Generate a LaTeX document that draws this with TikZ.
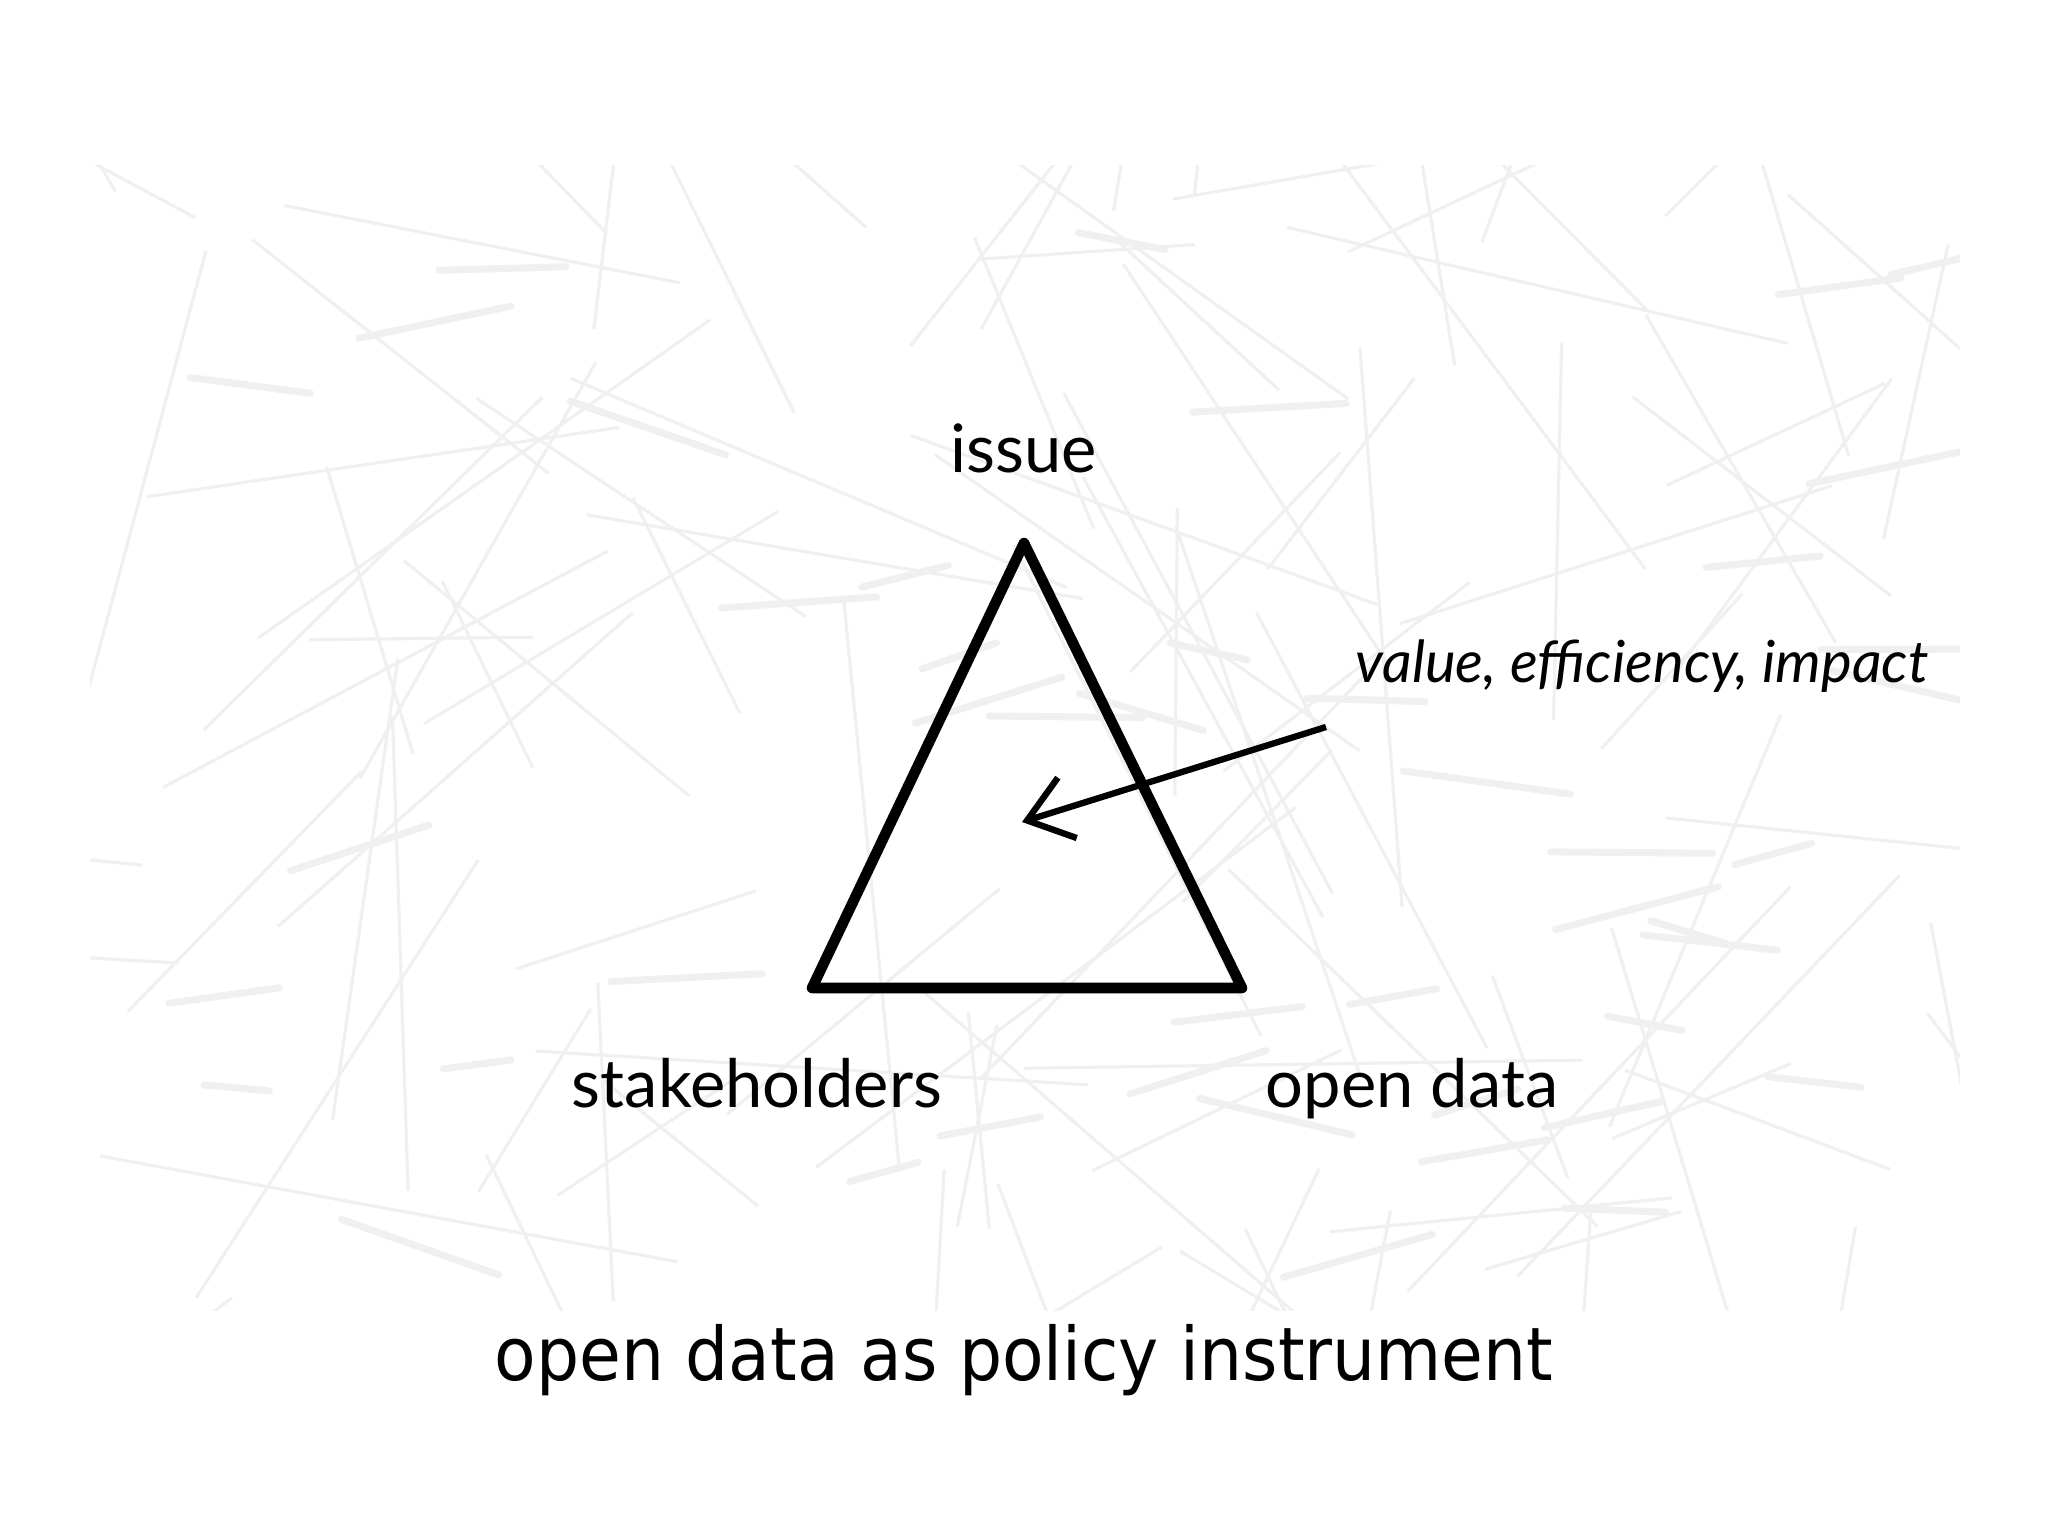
\documentclass[tikz,border=0pt]{standalone}
\usepackage{fontspec}
\setmainfont{Lato}
\newfontfamily\titlefont[FakeStretch=0.92]{DejaVu Sans}
\usetikzlibrary{arrows.meta,positioning}

\definecolor{scribble}{HTML}{F0F0F0}
\tikzset{
  corner/.style={font=\fontsize{19}{23}\selectfont,anchor=base},
  note/.style={font=\fontsize{16.5}{19}\selectfont\itshape,anchor=base},
  sketch/.style={line width=3pt,line join=round,line cap=round},
  pointer/.style={line width=1.8pt,-{Straight Barb[length=12pt,width=18pt]}}
}

\begin{document}
\begin{tikzpicture}[x=0.01cm,y=-0.01cm]
  \useasboundingbox (0,0) rectangle (2048,1536);
  \fill[white] (0,0) rectangle (2048,1536);
  % faint network in the background
  \begin{scope}
    \clip (90,165) rectangle (1960,1310);
    \pgfmathsetseed{17}
    \foreach \i in {1,...,110} {
      \pgfmathsetmacro\xa{100+1850*rnd}
      \pgfmathsetmacro\ya{170+1130*rnd}
      \pgfmathsetmacro\ang{360*rnd}
      \pgfmathsetmacro\len{180+420*rnd}
      \draw[scribble,line width=0.9pt] (\xa,\ya) -- ++(\ang:\len);
    }
    \foreach \i in {1,...,45} {
      \pgfmathsetmacro\xa{100+1800*rnd}
      \pgfmathsetmacro\ya{180+1100*rnd}
      \pgfmathsetmacro\ang{-20+40*rnd}
      \pgfmathsetmacro\len{60+110*rnd}
      \draw[scribble,line width=2pt,line cap=round] (\xa,\ya) -- ++(\ang:\len);
    }
  \end{scope}

  \coordinate (top) at (1024,543);
  \coordinate (left) at (812,988);
  \coordinate (right) at (1242,988);
  \draw[sketch] (top) -- (right) -- (left) -- cycle;

  \node[corner] (issue) at (1024,472) {issue};
  \node[corner] (stake) at (757,1107) {stakeholders};
  \node[corner] (data) at (1412,1107) {open data};

  \node[note] (value) at (1642,682) {value, efficiency, impact};
  \coordinate (tail) at (1326,727);
  \coordinate (tip) at (1022,822);
  \draw[pointer] (tail) -- (tip);

  \node[font=\titlefont\fontsize{21}{25}\selectfont,anchor=base] (title) at (1024,1380) {open data as policy instrument};
\end{tikzpicture}
\end{document}
